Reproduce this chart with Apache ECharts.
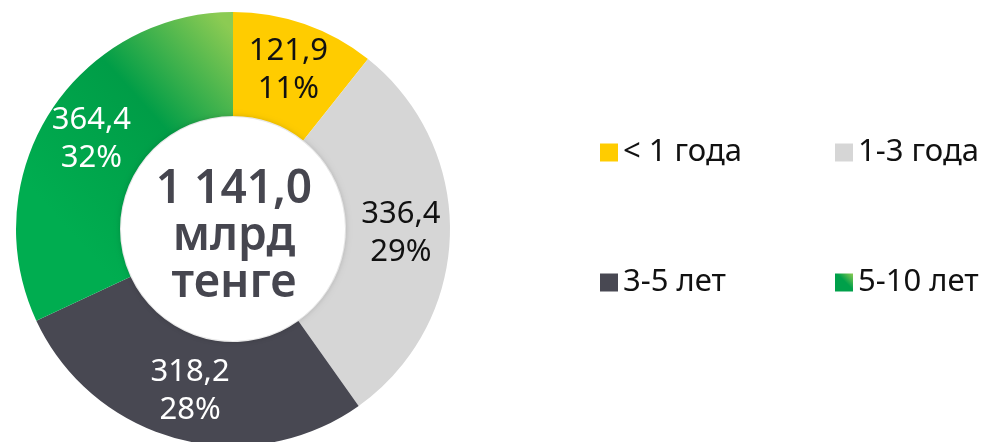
<!DOCTYPE html>
<html>
<head>
<meta charset="utf-8">
<script src="https://cdn.jsdelivr.net/npm/echarts@6/dist/echarts.min.js"></script>
<style>
	html, body { margin: 0; padding: 0; background: #fff; }
	#chart { width: 990px; height: 442px; }
</style>
</head>
<body>
<div id="chart"></div>
<script>
// данные
const categories = ['< 1 года', '1-3 года', '3-5 лет', '5-10 лет']
const values = [121.9, 336.4, 318.2, 364.4]
const totalText = ['1 141,0', 'млрд', 'тенге']

const colors = ['#ffcc00', '#d6d6d6', '#484852', null]
const labelColors = ['#111111', '#111111', '#ffffff', '#ffffff']
const font = '"Noto Sans", sans-serif'

const chart = echarts.init(document.getElementById('chart'))

const greenSlice = new echarts.graphic.LinearGradient(240, 40, 50, 210, [
	{ offset: 0, color: '#8ccb53' },
	{ offset: 0.45, color: '#009d47' },
	{ offset: 1, color: '#00ad50' }
], true)
const greenIcon = new echarts.graphic.LinearGradient(0, 1, 1, 0, [
	{ offset: 0, color: '#00a04a' },
	{ offset: 0.55, color: '#00a04a' },
	{ offset: 1, color: '#8ccb53' }
])

const fmt = v => v.toFixed(1).replace('.', ',')

const pieData = categories.map((name, i) => ({
	name: name,
	value: values[i],
	itemStyle: { color: i === 3 ? greenSlice : colors[i] },
	label: { color: labelColors[i] }
}))

// 4 отдельные легенды, по одной на элемент (2x2)
const legendPos = [[600, 137], [835, 137], [600, 267], [835, 267]]
const legends = categories.map((name, i) => ({
	data: [{ name: name, itemStyle: { color: i === 3 ? greenIcon : colors[i] } }],
	left: legendPos[i][0],
	top: legendPos[i][1],
	padding: 0,
	icon: 'rect',
	itemWidth: 18,
	itemHeight: 18,
	selectedMode: false,
	textStyle: { fontFamily: font, fontSize: 31, lineHeight: 30, color: '#111111' }
}))

const option = {
	animation: false,
	legend: legends,
	graphic: [
		{
			type: 'circle',
			shape: { cx: 233, cy: 229, r: 112 },
			style: { fill: '#ffffff', shadowBlur: 6, shadowColor: 'rgba(0,0,0,0.22)' },
			z: 10
		},
		{
			type: 'text',
			x: 234,
			y: 237,
			z: 11,
			style: {
				text: totalText.join('\n'),
				fill: '#46464f',
				font: '600 46px "Noto Sans", sans-serif',
				lineHeight: 47,
				align: 'center',
				verticalAlign: 'middle'
			}
		}
	],
	series: [
		{
			type: 'pie',
			center: [233, 229],
			radius: [113, 217],
			startAngle: 90,
			clockwise: true,
			silent: true,
			label: {
				show: true,
				position: 'inside',
				fontFamily: font,
				fontSize: 31,
				lineHeight: 38,
				formatter: p => fmt(p.value) + '\n' + Math.round(p.percent) + '%'
			},
			labelLine: { show: false },
			data: pieData
		}
	]
}

chart.setOption(option)
</script>
</body>
</html>
